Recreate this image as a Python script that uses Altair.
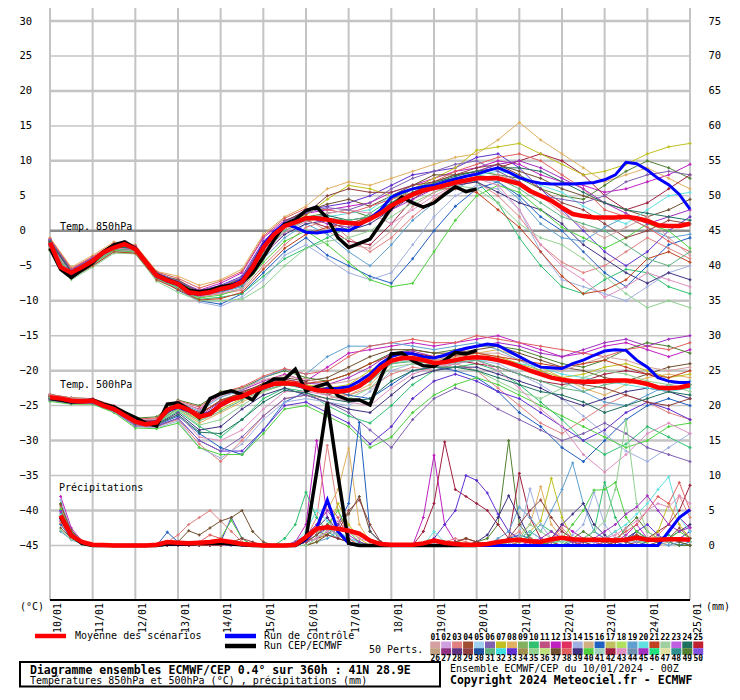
import altair as alt
import pandas as pd

MONO = "DejaVu Sans Mono"
OX, OY = 50, 8  # page position of the plot origin (used for annotation layout)

DAY_LABELS = ["10/01", "11/01", "12/01", "13/01", "14/01", "15/01", "16/01", "17/01",
              "18/01", "19/01", "20/01", "21/01", "22/01", "23/01", "24/01", "25/01"]
DAY_HOURS = list(range(0, 361, 24))
HOURS6 = list(range(0, 361, 6))
HOURS12 = list(range(0, 361, 12))
HOURS_PR = list(range(6, 361, 6))
HOURS_OP = list(range(0, 241, 6))
HOURS_OP_PR = list(range(6, 241, 6))
TEMP_TICKS = list(range(-45, 31, 5))
PR_ZERO = -45  # 0 mm sits on the -45 line of the temperature axis

PALETTE = ["#d4a0a0", "#d0a0e0", "#e08080", "#a05030", "#a0d0f0", "#8060b0", "#c0c020", "#e0b060",
           "#80b060", "#30c070", "#c05080", "#c020c0", "#e03060", "#a0b0e0", "#d0b080", "#2060c0",
           "#c0c060", "#b0e060", "#60a0d0", "#60e0e0", "#c04020", "#a0d0a0", "#c060e0", "#207060",
           "#c02030", "#c0a080", "#903080", "#603080", "#904040", "#2050a0", "#60b080", "#40e0e0",
           "#6030d0", "#a09050", "#90d090", "#c0e080", "#705030", "#e06060", "#403080", "#50d040",
           "#a0d0c0", "#a02040", "#e090c0", "#7090b0", "#a030c0", "#20e080", "#e0e0a0", "#309090",
           "#508030", "#8050e0"]
MEMBER_IDS = [12, 3, 8, 16, 49, 10, 42, 33, 19, 7, 14, 37, 39, 20, 40, 38, 35, 45, 43, 29, 1, 6, 21, 24, 31]

# ---------------- 850 hPa ----------------
T850_MEAN = [-1.7, -5.2, -6.0, -5.2, -4.3, -3.1, -2.4, -1.9, -2.6, -4.5, -6.4, -7.1, -7.6, -8.8, -9.0, -8.8,
             -8.3, -8.0, -7.3, -5.2, -2.4, -0.5, 0.7, 1.2, 1.8, 1.8, 1.6, 1.3, 1.1, 1.0, 1.7, 2.5, 3.6, 4.4,
             5.2, 5.8, 6.1, 6.5, 6.9, 7.2, 7.5, 7.5, 7.5, 7.1, 6.7, 5.7, 5.0, 4.3, 3.3, 2.4, 2.1, 1.9, 1.9,
             1.9, 2.0, 1.8, 1.4, 0.8, 0.7, 0.7, 1.0]
T850_CTRL = [-1.8, -5.3, -6.2, -5.3, -4.4, -3.2, -2.3, -1.9, -2.7, -4.6, -6.5, -7.2, -7.7, -8.9, -9.1, -8.8,
             -8.2, -7.8, -7.0, -5.0, -2.0, -0.2, 1.0, 0.5, -0.2, -0.3, -0.1, 0.2, 0.0, 0.8, 1.8, 3.0, 4.8,
             5.5, 6.0, 6.3, 6.5, 7.0, 7.4, 7.8, 8.1, 8.6, 9.0, 8.4, 7.6, 7.1, 6.8, 6.7, 6.7, 6.7, 6.8, 6.9,
             7.3, 8.0, 9.8, 9.6, 8.7, 7.5, 6.6, 5.2, 3.1]
T850_OPER = [-2.5, -5.5, -6.7, -5.6, -4.6, -3.0, -2.0, -1.6, -2.5, -4.5, -6.3, -7.0, -7.5, -8.5, -8.7, -8.5,
             -8.0, -7.8, -7.4, -6.0, -3.8, -1.3, 0.9, 1.6, 2.9, 3.4, 1.8, -1.0, -2.4, -1.8, -1.2, 1.0, 3.3,
             4.8, 4.0, 3.4, 4.0, 5.2, 6.3, 5.6, 6.0]
T850_PERTS = [
    [-1.2, -5.5, -3.8, -2.0, -2.2, -6.0, -7.2, -8.5, -7.5, -6.0, -1.0, 1.5, 2.5, 3.0, 3.5, 4.0, 5.5, 6.5, 7.5, 8.5, 9.0, 10.0, 9.5, 8.0, 7.0, 6.5, 5.5, 6.0, 7.0, 8.0, 9.5],
    [-2.5, -6.5, -4.8, -2.8, -3.0, -6.8, -8.0, -9.5, -9.0, -8.5, -5.0, -2.0, 0.5, 1.5, -1.0, -3.0, -1.0, 2.0, 4.5, 6.5, 7.0, 5.0, 2.0, -2.0, -4.5, -6.0, -5.0, -3.0, -1.0, -2.5, -4.0],
    [-1.0, -5.2, -3.5, -1.6, -2.0, -5.8, -6.5, -7.8, -7.0, -5.5, -0.5, 2.0, 3.5, 6.0, 7.0, 6.5, 7.5, 8.5, 9.5, 10.5, 11.0, 13.0, 15.5, 13.0, 11.0, 9.0, 7.0, 8.0, 9.0, 7.5, 6.0],
    [-2.0, -6.2, -4.5, -2.6, -2.8, -6.6, -8.5, -10.0, -10.5, -9.0, -6.0, -3.0, -1.0, -3.5, -5.0, -6.5, -7.5, -4.0, 0.0, 3.5, 6.0, 7.0, 5.0, 2.0, 0.0, -3.0, -6.0, -8.0, -5.0, -2.0, -1.0],
    [-1.5, -5.8, -4.0, -2.2, -2.4, -6.2, -7.0, -8.8, -8.0, -7.0, -2.0, 1.0, 2.0, 2.5, 3.0, 2.0, 4.0, 6.0, 7.0, 8.0, 8.5, 8.0, 7.5, 6.0, 5.0, 4.5, 6.5, 8.5, 10.0, 9.0, 7.5],
    [-2.8, -6.8, -5.0, -3.0, -3.2, -7.0, -8.2, -9.8, -9.5, -9.0, -6.5, -4.0, -2.5, -1.0, 0.5, 2.5, 4.5, 6.0, 7.0, 7.5, 7.0, 4.0, -1.0, -5.0, -8.0, -9.0, -7.0, -5.5, -6.0, -8.0, -9.0],
    [-1.8, -6.0, -4.2, -2.5, -2.7, -6.5, -7.8, -9.2, -8.5, -7.5, -3.0, 0.5, 1.5, 0.5, -1.5, -2.0, 1.0, 4.5, 6.5, 7.5, 8.0, 9.0, 10.0, 11.0, 10.0, 8.0, 5.0, 3.0, 4.0, 6.0, 8.0],
    [-1.3, -5.6, -3.9, -2.1, -2.3, -6.1, -7.3, -8.6, -7.8, -6.5, -1.5, 1.2, 3.0, 3.5, 4.0, 5.0, 6.5, 8.0, 8.5, 9.0, 10.5, 11.0, 9.0, 6.0, 3.0, 0.0, -3.0, -5.0, -3.0, 0.0, 2.0],
    [-2.2, -6.4, -4.6, -2.7, -2.9, -6.7, -8.0, -9.4, -8.8, -8.0, -4.0, -1.0, 1.0, -0.5, -3.0, -5.0, -2.0, 1.5, 4.0, 6.0, 7.5, 7.0, 4.5, 1.0, -1.0, -1.5, 0.5, 2.0, 0.5, -1.0, -0.5],
    [-1.6, -5.9, -4.1, -2.3, -2.5, -6.3, -7.5, -8.9, -8.2, -7.2, -2.2, 0.8, 2.2, 4.5, 6.5, 6.0, 5.0, 6.0, 7.5, 9.0, 11.5, 12.0, 12.5, 11.0, 9.5, 8.0, 8.5, 9.5, 11.0, 12.0, 12.5],
    [-2.6, -6.6, -4.9, -2.9, -3.1, -6.9, -8.3, -10.2, -10.8, -9.5, -7.0, -3.5, -2.0, -4.0, -6.0, -7.0, -6.0, -2.0, 2.0, 5.0, 6.5, 6.0, 3.0, -3.0, -7.0, -8.0, -9.0, -10.0, -8.0, -6.0, -5.0],
    [-1.4, -5.7, -4.0, -2.1, -2.4, -6.1, -7.4, -8.7, -8.0, -6.8, -1.8, 1.4, 2.8, 3.8, 4.5, 3.5, 5.0, 6.5, 8.0, 8.0, 8.5, 9.5, 8.5, 7.5, 6.0, 5.0, 4.0, 3.0, 2.0, 3.0, 4.5],
    [-2.1, -6.3, -4.4, -2.6, -2.8, -6.6, -7.9, -9.3, -8.7, -7.8, -3.5, -0.5, 1.0, 1.5, 0.0, 1.0, 3.0, 5.0, 6.0, 6.5, 7.0, 5.5, 4.0, 3.0, 1.0, -2.0, -4.0, -6.0, -7.5, -6.0, -7.0],
    [-1.9, -6.1, -4.3, -2.4, -2.6, -6.4, -7.7, -9.1, -8.4, -7.4, -2.6, 0.6, 1.6, 2.0, 2.5, 3.0, 5.0, 6.0, 6.5, 7.5, 8.0, 8.5, 8.0, 6.5, 5.5, 3.5, 2.0, 1.0, 3.0, 5.0, 5.5],
    [-2.4, -6.5, -4.7, -2.8, -3.0, -6.8, -8.1, -9.6, -9.2, -8.2, -4.5, -1.5, 0.0, -2.0, -4.5, -7.0, -8.0, -7.5, -3.0, 1.5, 5.0, 6.5, 5.5, 3.0, 0.5, -1.0, -2.5, -1.0, 1.0, 0.0, -2.5],
    [-1.1, -5.4, -3.7, -1.8, -2.1, -5.9, -6.8, -8.2, -7.2, -5.8, -0.8, 1.8, 3.2, 3.0, 2.5, 3.5, 4.5, 5.5, 7.0, 8.5, 9.5, 10.5, 11.0, 10.0, 8.0, 6.0, 3.0, 2.0, 0.5, -1.5, -3.0],
    [-2.9, -7.0, -5.2, -3.2, -3.3, -7.2, -8.8, -10.0, -10.0, -9.8, -8.0, -5.0, -2.5, -1.5, -1.0, 0.0, 2.0, 4.0, 5.5, 6.5, 6.0, 4.0, 1.0, -1.0, -2.0, -4.0, -6.5, -9.0, -11.0, -10.0, -11.0],
    [-1.7, -6.0, -4.3, -2.4, -2.6, -6.4, -7.6, -9.0, -8.3, -7.0, -2.0, 1.0, 2.0, 1.0, 0.5, 1.5, 3.0, 4.5, 6.0, 7.0, 8.5, 9.5, 10.0, 9.0, 7.5, 6.0, 4.0, 2.5, 1.0, 2.0, 3.0],
    [-2.3, -6.3, -4.5, -2.6, -2.9, -6.7, -7.9, -9.3, -8.9, -8.3, -3.8, -0.2, 1.3, 2.5, 3.0, 2.5, 1.0, 3.0, 5.0, 6.5, 7.5, 6.5, 3.0, -2.0, -5.0, -7.0, -9.5, -8.0, -6.0, -7.0, -8.0],
    [-1.5, -5.8, -4.0, -2.2, -2.4, -6.2, -7.1, -8.7, -8.1, -7.1, -2.3, 0.9, 2.4, 5.0, 6.0, 5.5, 5.5, 6.5, 7.0, 8.0, 9.0, 9.5, 8.0, 6.0, 4.0, 3.0, 1.0, -1.0, 0.0, 1.5, 1.0],
    [-2.0, -6.2, -4.4, -2.5, -2.7, -6.5, -7.7, -9.1, -8.5, -7.6, -3.2, 0.2, 1.7, 0.0, -2.0, -2.5, 0.0, 3.5, 5.5, 7.0, 7.5, 8.0, 7.0, 5.0, 2.5, 0.5, -1.0, 0.5, 2.0, -1.0, -3.5],
    [-1.3, -5.6, -3.9, -2.0, -2.3, -6.0, -7.2, -8.6, -7.9, -6.7, -1.7, 1.3, 2.6, 3.3, 3.0, 4.0, 6.0, 7.5, 8.5, 9.5, 10.0, 8.5, 7.0, 5.0, 4.5, 4.0, 5.0, 7.0, 8.0, 8.5, 8.0],
    [-2.7, -6.7, -5.0, -3.0, -3.2, -7.0, -8.4, -9.9, -9.7, -8.8, -5.5, -2.5, -0.5, 0.5, 1.0, 2.0, 3.5, 5.0, 6.0, 6.0, 5.5, 3.0, 0.5, -3.0, -6.5, -9.0, -8.5, -7.0, -4.0, -3.0, -4.5],
    [-1.6, -5.9, -4.2, -2.3, -2.5, -6.3, -7.5, -8.9, -8.3, -7.3, -2.5, 0.7, 1.9, 2.2, 1.5, 2.0, 4.0, 5.5, 6.8, 7.8, 8.5, 9.0, 9.0, 8.5, 7.0, 5.5, 4.0, 3.0, 2.5, 2.0, 1.5],
    [-2.2, -6.3, -4.5, -2.6, -2.8, -6.6, -7.8, -9.2, -8.6, -7.7, -3.3, 0.0, 1.5, 1.8, 1.5, 2.0, 3.5, 5.0, 6.5, 7.5, 8.0, 7.5, 6.0, 4.0, 2.0, 1.0, 0.0, -2.0, -4.0, -5.0, -3.0],
]

# ---------------- 500 hPa ----------------
T500_MEAN = [-23.8, -24.0, -24.3, -24.4, -24.3, -25.0, -25.5, -26.4, -27.3, -27.7, -27.4, -25.6, -25.0, -25.6,
             -26.6, -26.2, -24.9, -24.1, -23.7, -23.0, -22.4, -21.9, -21.8, -21.9, -22.4, -22.8, -22.9, -23.0,
             -22.8, -22.2, -21.1, -19.6, -18.6, -18.2, -18.2, -18.5, -18.9, -18.8, -18.5, -18.2, -18.1, -18.2,
             -18.5, -18.9, -19.4, -20.0, -20.5, -21.0, -21.3, -21.5, -21.6, -21.6, -21.5, -21.4, -21.4, -21.6,
             -21.9, -22.4, -22.5, -22.4, -22.1]
T500_CTRL = [-23.8, -24.0, -24.3, -24.4, -24.3, -25.0, -25.5, -26.3, -27.2, -27.6, -27.3, -25.8, -25.2, -25.8,
             -26.5, -26.0, -25.0, -24.2, -23.6, -23.0, -22.5, -22.0, -21.8, -22.0, -22.5, -22.8, -22.6, -22.5,
             -22.3, -21.5, -20.5, -19.0, -18.0, -17.5, -17.6, -18.0, -18.2, -17.8, -17.2, -16.8, -16.5, -16.2,
             -16.4, -17.2, -18.0, -18.8, -19.5, -19.6, -19.7, -19.0, -18.5, -17.8, -17.2, -17.0, -17.1, -18.5,
             -19.5, -21.0, -21.5, -21.7, -21.7]
T500_OPER = [-24.0, -24.2, -24.5, -24.4, -24.2, -24.8, -25.2, -26.0, -26.7, -27.5, -27.9, -24.8, -24.6, -25.5,
             -26.7, -24.0, -23.3, -22.9, -23.4, -24.2, -22.1, -21.2, -21.2, -19.8, -22.9, -22.3, -21.8, -23.6,
             -24.2, -24.2, -24.9, -21.0, -17.6, -17.5, -18.6, -19.3, -19.4, -18.5, -17.4, -17.6, -17.1]
T500_PERTS = [
    [-23.5, -24.0, -24.1, -25.2, -27.0, -27.0, -24.5, -25.5, -23.5, -22.8, -21.5, -20.5, -21.5, -19.5, -17.5, -17.0, -16.5, -16.0, -16.5, -16.0, -15.5, -15.0, -16.0, -17.0, -18.0, -17.5, -16.5, -16.0, -17.0, -18.0, -17.0],
    [-24.0, -24.5, -24.5, -25.8, -27.8, -28.0, -27.0, -30.5, -33.0, -30.0, -26.5, -24.0, -23.5, -24.0, -23.5, -22.5, -20.5, -19.5, -20.0, -19.0, -20.0, -22.5, -25.0, -27.5, -29.0, -27.0, -25.0, -23.5, -24.5, -26.0, -27.0],
    [-23.6, -24.2, -24.2, -25.4, -27.2, -27.2, -25.5, -27.5, -26.0, -24.5, -23.0, -22.0, -22.0, -23.0, -23.5, -22.0, -19.0, -18.5, -19.0, -18.0, -17.5, -17.0, -18.0, -19.5, -21.0, -22.5, -23.5, -22.0, -21.0, -20.5, -21.0],
    [-24.2, -24.6, -24.6, -25.7, -27.6, -27.8, -26.5, -29.0, -31.0, -32.0, -28.5, -24.5, -23.0, -22.5, -23.5, -24.0, -22.0, -20.0, -19.5, -20.0, -21.0, -23.0, -26.0, -28.0, -31.0, -33.0, -30.0, -27.0, -25.0, -24.0, -25.0],
    [-23.4, -23.9, -24.0, -25.1, -26.8, -26.6, -24.2, -25.0, -23.0, -22.5, -21.0, -20.0, -21.0, -21.5, -20.5, -19.0, -17.5, -17.0, -17.5, -17.0, -16.5, -16.5, -17.0, -18.0, -19.0, -19.5, -18.5, -17.0, -16.0, -16.5, -17.5],
    [-23.9, -24.4, -24.4, -25.6, -27.5, -27.6, -25.8, -28.0, -29.5, -27.0, -24.0, -22.5, -23.0, -25.0, -26.5, -27.5, -25.0, -22.0, -20.0, -19.5, -19.0, -20.0, -22.0, -24.5, -27.0, -30.0, -32.0, -30.5, -28.0, -29.5, -31.0],
    [-23.7, -24.2, -24.3, -25.4, -27.3, -27.3, -24.8, -26.0, -24.5, -23.0, -22.0, -21.5, -22.5, -23.5, -22.5, -20.5, -18.0, -17.5, -18.0, -18.5, -19.0, -19.5, -20.5, -21.5, -22.0, -21.5, -20.5, -20.0, -20.5, -21.5, -22.0],
    [-24.1, -24.5, -24.6, -25.7, -27.7, -27.9, -26.8, -30.0, -31.5, -31.5, -28.5, -25.0, -24.5, -26.0, -27.5, -30.5, -28.0, -24.0, -21.5, -20.5, -21.5, -23.0, -24.0, -26.0, -28.0, -30.0, -28.5, -26.0, -24.5, -25.5, -27.0],
    [-23.5, -24.1, -24.1, -25.3, -27.1, -27.1, -24.6, -25.8, -23.8, -22.8, -21.0, -19.8, -20.5, -18.0, -16.5, -16.5, -16.0, -16.5, -17.0, -16.5, -16.0, -17.0, -18.5, -20.0, -21.5, -23.0, -24.5, -25.0, -23.5, -22.0, -21.5],
    [-23.8, -24.3, -24.3, -25.5, -27.4, -27.5, -25.3, -27.0, -25.5, -24.0, -22.5, -21.5, -22.0, -22.5, -22.0, -20.0, -18.5, -18.0, -18.5, -18.0, -17.5, -18.0, -19.0, -20.0, -21.0, -20.5, -19.5, -19.0, -20.0, -21.0, -20.5],
    [-24.3, -24.7, -24.7, -25.9, -28.0, -28.2, -27.2, -31.0, -32.5, -30.5, -27.0, -24.5, -24.0, -24.5, -25.0, -23.0, -20.0, -19.0, -19.5, -19.0, -18.5, -19.0, -20.5, -22.0, -24.0, -26.5, -29.0, -31.5, -33.0, -31.0, -29.0],
    [-23.6, -24.1, -24.2, -25.3, -27.2, -27.1, -24.7, -26.3, -24.2, -23.2, -21.8, -21.0, -21.5, -21.0, -19.5, -18.0, -17.0, -17.0, -17.5, -17.5, -17.0, -16.5, -17.5, -18.5, -19.5, -20.0, -21.0, -21.5, -20.5, -19.5, -19.0],
    [-24.0, -24.4, -24.5, -25.6, -27.6, -27.7, -26.0, -28.5, -28.0, -25.5, -23.5, -22.5, -23.5, -24.5, -25.5, -26.0, -23.5, -21.0, -20.0, -19.5, -19.5, -20.5, -21.5, -22.5, -24.0, -25.0, -24.0, -23.0, -22.5, -23.0, -24.0],
    [-23.7, -24.2, -24.3, -25.5, -27.3, -27.4, -25.1, -26.8, -25.0, -23.8, -22.3, -21.7, -22.2, -22.8, -22.5, -21.5, -19.0, -18.5, -19.0, -19.0, -18.5, -18.5, -19.0, -19.5, -20.5, -21.0, -21.5, -22.0, -22.5, -23.0, -22.5],
    [-24.4, -24.8, -24.8, -26.0, -28.2, -28.3, -27.5, -31.0, -32.0, -32.0, -29.0, -25.5, -25.0, -26.5, -28.0, -31.0, -29.5, -26.0, -23.5, -22.0, -21.0, -22.0, -23.5, -25.0, -26.5, -28.0, -29.5, -31.0, -30.0, -28.0, -27.5],
    [-23.4, -23.9, -24.0, -25.0, -26.9, -26.8, -24.3, -25.2, -23.2, -22.3, -20.8, -19.7, -20.5, -20.0, -18.0, -16.5, -16.0, -15.5, -16.0, -16.0, -15.0, -15.5, -16.0, -16.5, -17.0, -17.5, -18.0, -17.0, -16.5, -17.0, -16.0],
    [-23.9, -24.4, -24.4, -25.6, -27.5, -27.5, -25.6, -27.8, -27.0, -25.0, -23.0, -22.0, -22.5, -23.5, -24.0, -22.5, -19.5, -19.0, -19.5, -19.5, -20.0, -21.5, -23.0, -24.0, -22.5, -21.0, -20.0, -20.5, -21.5, -22.0, -23.0],
    [-23.6, -24.1, -24.1, -25.3, -27.2, -27.2, -24.9, -26.5, -24.5, -23.5, -22.0, -21.2, -21.8, -22.0, -21.0, -19.5, -17.5, -17.2, -18.0, -17.5, -16.5, -16.0, -16.5, -17.5, -18.0, -17.0, -16.0, -15.5, -16.5, -15.5, -15.0],
    [-24.1, -24.6, -24.6, -25.8, -27.7, -27.8, -26.2, -29.5, -30.0, -28.5, -25.5, -23.0, -23.0, -23.5, -24.5, -25.0, -22.5, -20.5, -19.5, -19.0, -18.5, -20.0, -22.5, -25.5, -28.0, -32.0, -34.5, -32.0, -29.0, -27.5, -29.0],
    [-23.8, -24.3, -24.3, -25.5, -27.4, -27.3, -25.0, -26.7, -24.8, -23.6, -22.4, -21.8, -22.4, -22.9, -22.8, -21.0, -18.7, -18.3, -18.8, -18.4, -18.0, -18.5, -19.5, -20.5, -21.5, -22.0, -22.5, -23.5, -24.5, -25.0, -24.0],
    [-23.5, -24.0, -24.1, -25.2, -27.0, -27.0, -24.4, -25.6, -23.6, -22.6, -21.3, -20.7, -21.2, -22.0, -21.5, -20.5, -18.0, -17.5, -18.5, -18.0, -17.5, -17.5, -18.5, -19.5, -20.0, -19.0, -18.0, -18.5, -19.5, -20.0, -19.5],
    [-24.2, -24.7, -24.7, -25.8, -27.9, -28.0, -26.8, -30.0, -31.5, -29.5, -26.5, -24.0, -23.5, -24.5, -26.0, -28.5, -31.0, -27.0, -24.0, -22.5, -23.5, -25.5, -27.0, -28.5, -30.0, -29.0, -27.5, -29.0, -31.0, -32.0, -33.0],
    [-23.7, -24.2, -24.2, -25.4, -27.3, -27.3, -24.9, -26.2, -24.3, -23.3, -22.0, -21.3, -21.8, -21.5, -20.5, -19.0, -17.8, -17.5, -18.0, -17.8, -17.5, -18.0, -18.5, -19.0, -19.5, -19.0, -18.5, -19.5, -20.5, -21.0, -20.0],
    [-24.0, -24.5, -24.5, -25.7, -27.6, -27.7, -26.3, -28.8, -29.0, -27.0, -24.5, -22.8, -23.2, -24.0, -24.5, -24.0, -21.5, -20.0, -19.5, -19.5, -20.0, -21.0, -22.0, -23.0, -23.5, -24.5, -26.0, -25.0, -24.0, -23.0, -23.5],
    [-23.9, -24.3, -24.4, -25.5, -27.4, -27.5, -25.4, -27.2, -25.8, -24.2, -22.8, -22.0, -22.6, -23.2, -23.0, -21.5, -19.0, -18.7, -19.0, -18.8, -18.5, -19.5, -20.5, -21.5, -22.5, -23.0, -22.0, -21.5, -22.0, -22.5, -22.0],
]

# ---------------- precipitation (mm per 6 h) ----------------
PR_MEAN = [4.3, 1.4, 0.5, 0.1, 0.05, 0.0, 0.0, 0.0, 0.0, 0.1,
           0.5, 0.4, 0.3, 0.4, 0.5, 0.7, 0.5, 0.2, 0.1, 0.0,
           0.0, 0.0, 0.1, 1.2, 2.4, 2.6, 2.4, 2.1, 1.7, 0.7,
           0.2, 0.1, 0.1, 0.1, 0.3, 0.7, 0.4, 0.2, 0.1, 0.1,
           0.2, 0.5, 0.7, 0.8, 0.6, 0.5, 0.9, 1.1, 0.9, 0.8,
           0.8, 0.8, 0.7, 0.8, 1.1, 0.8, 0.8, 0.9, 0.9, 0.8]
PR_CTRL = [4.2, 1.5, 0.4, 0, 0, 0, 0, 0, 0, 0,
           0.2, 0.2, 0.2, 0.3, 0.3, 0.3, 0.2, 0.1, 0, 0,
           0, 0, 0, 0.8, 2.5, 6.5, 2.0, 0.3, 0, 0,
           0, 0, 0, 0, 0, 0, 0, 0, 0, 0,
           0, 0, 0, 0, 0, 0, 0, 0, 0, 0,
           0, 0, 0, 0, 0, 0, 0, 2.0, 4.0, 5.1]
PR_OPER = [4.0, 1.4, 0.3, 0, 0, 0, 0, 0, 0, 0,
           0.2, 0.2, 0.2, 0.3, 0.3, 0.3, 0.2, 0.1, 0, 0,
           0, 0, 0, 1.0, 10.5, 20.5, 10.0, 0.3, 0, 0,
           0, 0, 0, 0, 0, 0, 0, 0, 0, 0]
PR_PERTS = [
    [7.0, 2.5, 0.6, 0.1, 0, 0, 0, 0, 0, 0, 0, 0, 0.3, 0.5, 0.2, 0, 0, 0, 0, 0, 0, 0, 0.5, 3.0, 15.0, 4.0, 1.0, 0.5, 0.2, 0,
     0, 0, 0, 0, 4.0, 12.9, 3.0, 0.5, 0.2, 0, 0, 0, 0.5, 1.0, 2.0, 1.0, 0.5, 3.0, 2.0, 1.0, 0.5, 0, 0.5, 1.5, 3.0, 1.0, 0.5, 2.0, 4.0, 2.5],
    [5.5, 1.8, 0.4, 0, 0, 0, 0, 0, 0, 0, 0.5, 1.5, 3.0, 4.0, 5.0, 3.5, 2.0, 0.5, 0, 0, 0, 0, 0, 1.0, 4.0, 14.3, 5.0, 1.0, 0, 0,
     0, 0, 0, 0, 0, 0, 0.5, 1.0, 0.5, 0, 0, 0.5, 1.0, 2.0, 0.5, 0, 1.0, 2.5, 1.0, 0, 0, 1.0, 2.0, 0.5, 0, 0.5, 1.5, 3.0, 7.1, 4.0],
    [4.0, 1.2, 0.3, 0, 0, 0, 0, 0, 0, 0, 0, 0, 0, 0, 0, 0.2, 0.5, 0.3, 0, 0, 0, 0, 0.2, 1.5, 3.0, 5.0, 8.0, 13.9, 3.0, 0.5,
     0, 0, 0, 0, 0, 0, 0, 0.3, 1.0, 0.5, 0.2, 0, 0.5, 1.5, 3.0, 8.4, 3.0, 1.0, 0.5, 0, 0, 0, 0.5, 1.0, 0.5, 0, 0, 0.5, 1.0, 0.5],
    [3.0, 1.0, 0.2, 0, 0, 0, 0, 0, 0, 0, 1.9, 0.5, 0, 0, 0, 0, 0, 0, 0, 0, 0, 0, 0, 0.5, 1.0, 2.0, 3.0, 6.0, 17.6, 2.0,
     0.5, 0, 0, 0, 0, 0, 0, 0, 0, 0, 0, 0.5, 1.0, 1.5, 1.0, 0.5, 0, 0, 0.5, 1.0, 2.0, 1.0, 0.5, 0, 0, 0.5, 1.0, 0.5, 0, 0.5],
    [6.0, 2.2, 0.5, 0, 0, 0, 0, 0, 0, 0, 0, 0, 0, 0, 0, 0, 0, 0, 0, 0, 0, 0, 0.5, 1.0, 2.0, 1.5, 1.0, 0.5, 0, 0,
     0, 0, 0, 0, 0, 0, 0, 0, 0, 0.5, 1.0, 3.0, 15.0, 3.0, 1.0, 0.5, 0, 0, 1.0, 2.0, 1.0, 0.5, 0.5, 2.5, 4.0, 2.0, 1.0, 0.5, 0, 0],
    [4.5, 1.5, 0.3, 0, 0, 0, 0, 0, 0, 0, 0, 0, 0, 0, 0, 0, 0, 0, 0, 0, 0, 1.0, 3.0, 7.6, 4.0, 2.0, 1.0, 0.5, 0.3, 0,
     0, 0, 0, 0, 0, 0, 0, 0, 0, 0, 0, 0, 0, 0.5, 1.5, 3.0, 2.0, 1.0, 0.5, 1.0, 2.0, 9.0, 4.0, 1.0, 0.5, 0.5, 1.0, 1.5, 0.5, 0],
    [3.5, 1.2, 0.3, 0, 0, 0, 0, 0, 0, 0, 0, 0, 0, 0, 0, 0, 0, 0, 0, 0, 0, 0, 0, 0.5, 1.0, 1.5, 1.0, 0.5, 0, 0,
     0, 0, 0, 0, 2.0, 6.0, 14.8, 8.0, 7.0, 6.0, 5.0, 3.0, 1.0, 10.3, 4.0, 1.0, 0.5, 0, 0, 0.5, 1.0, 0.5, 0, 0, 0.5, 1.0, 2.0, 3.0, 5.0, 8.6],
    [5.0, 1.8, 0.4, 0, 0, 0, 0, 0, 0, 0, 0, 0, 0, 0, 0, 0.5, 4.0, 1.0, 0, 0, 0, 0, 0, 0.5, 1.5, 2.5, 1.5, 0.5, 0, 0,
     0, 0, 0, 0, 0, 1.0, 3.0, 5.0, 10.0, 9.3, 7.5, 4.5, 2.0, 1.0, 0.5, 0, 0.5, 1.0, 0.5, 0, 0, 0.5, 1.0, 0.5, 2.0, 3.0, 1.5, 0.5, 1.0, 2.0],
    [2.0, 0.8, 0.2, 0, 0, 0, 0, 0, 0, 0, 0, 0, 0, 0, 0, 0, 0, 0, 0, 0, 0, 0, 0, 0, 0.5, 1.0, 2.0, 1.0, 0.5, 0,
     0, 0, 0, 0, 0, 0, 0, 0, 0, 0, 0, 1.0, 2.0, 5.5, 4.0, 2.0, 5.0, 8.0, 11.8, 6.0, 2.0, 1.0, 0.5, 1.0, 2.0, 1.0, 0.5, 0, 0.5, 1.0],
    [4.2, 1.4, 0.3, 0, 0, 0, 0, 0, 0, 0, 0, 0, 0, 0, 0, 0, 0, 0, 0, 0, 0, 0, 0, 0, 0.5, 2.0, 6.0, 3.0, 1.0, 0,
     0, 0, 0, 0, 0, 0, 0, 0, 0, 0, 0, 0, 0.5, 1.0, 2.0, 3.5, 9.6, 4.0, 1.0, 0.5, 0, 0, 0.5, 1.0, 1.5, 0.5, 2.0, 6.0, 3.0, 1.0],
    [6.5, 2.0, 0.5, 0, 0, 0, 0, 0, 0, 0, 0, 0, 0, 0, 0, 0, 0, 0, 0, 0, 0, 0, 0, 0, 1.0, 2.0, 1.5, 1.0, 0.5, 0,
     0, 0, 0, 0, 0, 0, 0, 0, 0, 0, 0, 0, 0, 1.5, 8.1, 3.0, 1.0, 0.5, 1.5, 3.0, 7.6, 3.0, 1.0, 0.5, 0.5, 1.0, 0.5, 0.5, 1.0, 0.5],
    [2.5, 1.0, 0.3, 0, 0, 0, 0, 0, 0, 0, 0, 0.5, 2.1, 1.5, 2.5, 3.5, 4.0, 5.0, 2.0, 0.5, 0, 0, 0, 0, 0.5, 1.5, 3.0, 4.5, 7.0, 2.0,
     0.5, 0, 0, 0, 0, 0, 0, 0.5, 1.0, 0.5, 0, 0, 0.5, 1.0, 0.5, 0, 0.5, 1.0, 0.5, 0, 0, 0.5, 1.0, 0.5, 0, 0, 0.5, 1.0, 0.5, 0],
    [3.8, 1.3, 0.3, 0, 0, 0, 0, 0, 0, 0, 0, 0, 0, 0, 0, 0, 0, 0, 0, 0, 0, 0, 0, 0.5, 2.5, 4.0, 2.0, 0.5, 0, 0,
     0, 0, 0, 0, 0, 0, 0, 0, 0, 0.5, 1.5, 4.0, 7.1, 4.0, 1.0, 0.5, 1.0, 3.0, 4.5, 6.0, 3.0, 1.5, 0.5, 1.0, 2.0, 1.0, 0.5, 1.0, 2.0, 3.0],
    [4.4, 1.6, 0.4, 0, 0, 0, 0, 0, 0, 0, 0, 0, 0, 0, 0, 0, 0, 0, 0, 0, 0, 0, 0.5, 2.0, 5.0, 3.5, 2.0, 1.0, 0.5, 0,
     0, 0, 0, 0, 0, 2.0, 0.5, 0, 0, 0, 0, 0, 0.5, 1.0, 2.0, 1.0, 0.5, 0.5, 1.0, 0.5, 0.5, 1.0, 2.0, 3.0, 4.5, 6.0, 8.0, 9.8, 4.0, 2.0],
    [5.2, 1.9, 0.5, 0, 0, 0, 0, 0, 0, 0, 0, 0, 0, 0, 0, 1.0, 3.6, 1.0, 0, 0, 0, 0, 0, 0.5, 1.5, 3.0, 5.0, 2.0, 0.5, 0,
     0, 0, 0, 0, 0, 0, 0, 0, 0, 0, 0, 0, 0, 0.5, 1.0, 0.5, 0, 1.0, 3.0, 5.0, 7.9, 8.0, 9.0, 4.0, 2.0, 1.0, 0.5, 1.0, 2.0, 1.0],
    [3.2, 1.1, 0.3, 0, 0, 0, 0, 0, 0, 0, 0, 0, 0, 0.5, 1.5, 1.0, 0.5, 0, 0, 0, 0, 0, 0, 0.5, 2.0, 6.0, 4.0, 1.0, 0, 0,
     0, 0, 0, 0, 0, 0, 0, 0, 0, 0, 0, 0, 0, 0.5, 1.0, 0.5, 0.5, 1.0, 0.5, 0, 0, 0.5, 1.0, 2.0, 3.0, 5.0, 7.0, 6.0, 9.0, 5.0],
    [2.2, 0.9, 0.2, 0, 0, 0, 0, 0, 0, 0, 0, 0, 0, 0, 0, 0, 0, 0, 0, 0, 0, 0, 0, 0, 1.0, 2.5, 1.5, 0.5, 0, 0,
     0, 0, 0, 0, 0, 0, 0, 0, 0, 0, 0, 0, 0.5, 1.0, 3.0, 2.0, 1.0, 0.5, 0.5, 1.0, 2.0, 3.5, 8.0, 17.9, 6.0, 2.0, 1.0, 0.5, 1.0, 0.5],
    [4.8, 1.7, 0.4, 0, 0, 0, 0, 0, 0, 0, 0, 0, 0, 0, 0, 0, 0, 0, 0, 0, 0, 0, 0.5, 1.5, 3.0, 5.0, 3.0, 1.5, 0.5, 0,
     0, 0, 0, 0, 0, 0, 0, 0, 0, 0, 0, 0, 0, 0, 0.5, 1.0, 2.0, 1.0, 0.5, 0.5, 1.0, 2.0, 3.0, 4.5, 5.5, 7.1, 5.0, 3.0, 2.0, 2.6],
    [3.6, 1.3, 0.3, 0, 0, 0, 0, 0, 0, 0, 0, 0, 0, 0, 0, 0, 0, 0, 0, 0, 0, 0, 0, 0.5, 1.0, 2.0, 3.5, 2.0, 1.0, 0.5,
     0, 0, 0, 0, 0, 0, 0, 0, 0, 0, 0, 0, 0, 0, 0, 0.5, 1.0, 2.0, 1.0, 0.5, 0.5, 1.0, 1.5, 2.5, 3.5, 5.0, 6.0, 5.5, 7.1, 6.0],
    [5.8, 2.0, 0.5, 0, 0, 0, 0, 0, 0, 0, 0, 0, 0, 0, 0, 0, 0.5, 1.0, 0.5, 0, 0, 0, 0, 0.5, 1.5, 3.0, 2.0, 5.0, 6.5, 3.0,
     0.5, 0, 0, 0, 0, 0, 0, 0.5, 1.0, 0.5, 0, 0.5, 1.0, 3.0, 5.0, 6.5, 4.0, 2.0, 1.0, 0.5, 0, 0, 0.5, 1.0, 1.5, 1.0, 0.5, 1.0, 2.5, 1.0],
]

# ---------------- sanity checks ----------------
for arr, n in [(T850_MEAN, 61), (T850_CTRL, 61), (T850_OPER, 41), (T500_MEAN, 61), (T500_CTRL, 61),
               (T500_OPER, 41), (PR_MEAN, 60), (PR_CTRL, 60), (PR_OPER, 40)]:
    assert len(arr) == n, (n, len(arr))
for i, arr in enumerate(T850_PERTS + T500_PERTS):
    assert len(arr) == 31, ("temp", i, len(arr))
for i, arr in enumerate(PR_PERTS):
    assert len(arr) == 60, ("pr", i, len(arr))

# ---------------- tables ----------------
def rows_for(key, hours, values, color, shift=0.0):
    return [{"key": key, "h": h, "v": v + shift, "c": color} for h, v in zip(hours, values)]

pert_rows = []
for i, vals in enumerate(T850_PERTS):
    pert_rows += rows_for(f"t850_{i}", HOURS12, vals, PALETTE[MEMBER_IDS[i] - 1])
for i, vals in enumerate(T500_PERTS):
    pert_rows += rows_for(f"t500_{i}", HOURS12, vals, PALETTE[MEMBER_IDS[i] - 1])
for i, vals in enumerate(PR_PERTS):
    pert_rows += rows_for(f"pr_{i}", HOURS_PR, vals, PALETTE[MEMBER_IDS[i] - 1], PR_ZERO)
pert_df = pd.DataFrame(pert_rows)

ctrl_df = pd.DataFrame(rows_for("t850", HOURS6, T850_CTRL, "#0000ff")
                       + rows_for("t500", HOURS6, T500_CTRL, "#0000ff")
                       + rows_for("pr", HOURS_PR, PR_CTRL, "#0000ff", PR_ZERO))
oper_df = pd.DataFrame(rows_for("t850", HOURS_OP, T850_OPER, "#000000")
                       + rows_for("t500", HOURS_OP, T500_OPER, "#000000")
                       + rows_for("pr", HOURS_OP_PR, PR_OPER, "#000000", PR_ZERO))
mean_df = pd.DataFrame(rows_for("t850", HOURS6, T850_MEAN, "#ff0000")
                       + rows_for("t500", HOURS6, T500_MEAN, "#ff0000")
                       + rows_for("pr", HOURS_PR, PR_MEAN, "#ff0000", PR_ZERO))

PLOT_W, PLOT_H = 640, 592
XS = alt.Scale(domain=[0, 360], nice=False, zero=False)
YS = alt.Scale(domain=[-52.8, 31.86], nice=False, zero=False)
NOX = alt.X("h:Q", scale=XS, axis=None)

grid_major = pd.DataFrame({"v": [t for t in TEMP_TICKS if t % 10 == 0 and t != 0]})
grid_minor = pd.DataFrame({"v": [t for t in TEMP_TICKS if t % 10 != 0]})
grid_zero = pd.DataFrame({"v": [0]})
days_df = pd.DataFrame({"h": DAY_HOURS, "lab": DAY_LABELS})

vgrid = alt.Chart(days_df).mark_rule(color="#c4c4c4", strokeWidth=2).encode(x=NOX)
minor_layer = alt.Chart(grid_minor).mark_rule(color="#c4c4c4", strokeWidth=1.5).encode(
    y=alt.Y("v:Q", scale=YS, axis=alt.Axis(orient="right", values=TEMP_TICKS, labelExpr="datum.value + 45",
                                           ticks=False, tickSize=0, domain=False, grid=False, labelPadding=18,
                                           labelAlign="left", labelFont=MONO, labelFontSize=10.5,
                                           labelColor="black", title=None)))
major_layer = alt.Chart(grid_major).mark_rule(color="#c4c4c4", strokeWidth=2.5).encode(
    y=alt.Y("v:Q", scale=YS, axis=alt.Axis(orient="left", values=TEMP_TICKS, ticks=False, tickSize=0,
                                           domain=False, grid=False, labelPadding=31, labelAlign="left",
                                           labelFont=MONO, labelFontSize=10.5, labelColor="black", title=None)))
zero_layer = alt.Chart(grid_zero).mark_rule(color="#8c8c8c", strokeWidth=2.5).encode(
    y=alt.Y("v:Q", scale=YS, axis=None))
bottom_line = alt.Chart(pd.DataFrame({"k": [0]})).mark_rule(color="black", strokeWidth=2).encode(
    x=alt.value(0), x2=alt.value(PLOT_W), y=alt.value(PLOT_H))
# rotated labels: dy acts across the reading direction, i.e. moves them right on screen
day_text = alt.Chart(days_df).mark_text(angle=270, align="right", baseline="top", font=MONO, fontSize=10,
                                        color="black", dy=2.5).encode(
    x=NOX, y=alt.value(PLOT_H + 3), text="lab:N")

enc_common = dict(
    y=alt.Y("v:Q", scale=YS, axis=None),
    detail="key:N",
    color=alt.Color("c:N", scale=None, legend=None),
)
pert_lines = alt.Chart(pert_df).mark_line(strokeWidth=1).encode(x=NOX, **enc_common)
pert_pts = alt.Chart(pert_df).mark_point(shape="cross", filled=True, size=9, opacity=1).encode(x=NOX, **enc_common)
ctrl_line = alt.Chart(ctrl_df).mark_line(strokeWidth=3).encode(x=NOX, **enc_common)
oper_line = alt.Chart(oper_df).mark_line(strokeWidth=3.5).encode(x=NOX, **enc_common)
mean_line = alt.Chart(mean_df).mark_line(strokeWidth=4.5).encode(x=NOX, **enc_common)

ONE = pd.DataFrame({"k": [0]})


def in_plot_label(txt, h, v):
    return alt.Chart(ONE).mark_text(text=txt, font=MONO, fontSize=10, align="left", baseline="middle",
                                    color="black").encode(
        x=alt.X(datum=h, scale=XS, axis=None), y=alt.Y(datum=v, scale=YS, axis=None))


def page_text(txt, px, py, size=10, bold=False):
    return alt.Chart(ONE).mark_text(text=txt, font=MONO, fontSize=size,
                                    fontWeight="bold" if bold else "normal",
                                    align="left", baseline="middle", color="black").encode(
        x=alt.value(px - OX), y=alt.value(py - OY))


def page_seg(x1, x2, py, color, w):
    return alt.Chart(ONE).mark_rule(color=color, strokeWidth=w).encode(
        x=alt.value(x1 - OX), x2=alt.value(x2 - OX), y=alt.value(py - OY))


labels_layers = [
    in_plot_label("Temp. 850hPa", 5.6, 0.55),
    in_plot_label("Temp. 500hPa", 5.6, -22.05),
    in_plot_label("Précipitations", 5.0, -36.8),
    page_text("(°C)", 20, 607),
    page_text("(mm)", 706, 607),
    page_seg(35, 66, 636, "#ff0000", 4.5),
    page_text("Moyenne des scénarios", 75, 636),
    page_seg(225, 256, 636, "#0000ff", 4.5),
    page_text("Run de contrôle", 264, 636),
    page_seg(225, 256, 646, "#000000", 4.5),
    page_text("Run CEP/ECMWF", 264, 646),
    page_text("50 Perts.", 369, 650),
    alt.Chart(ONE).mark_rect(fillOpacity=0, stroke="black", strokeWidth=2).encode(
        x=alt.value(20 - OX), x2=alt.value(440 - OX), y=alt.value(662 - OY), y2=alt.value(686.5 - OY)),
    page_text("Diagramme ensembles ECMWF/CEP 0.4° sur 360h : 41N 28.9E", 30, 670.5, 11.5, True),
    page_text("Températures 850hPa et 500hPa (°C) , précipitations (mm)", 30, 681, 10),
    page_text("Ensemble ECMWF/CEP du 10/01/2024 - 00Z", 450, 669, 10),
    page_text("Copyright 2024 Meteociel.fr - ECMWF", 450, 681, 11.5, True),
]

# member colour key (legend layout computed from member index)
sw_rows = []
for i, col in enumerate(PALETTE):
    r, c = divmod(i, 25)
    x0 = 430.2 + 10.96 * c - OX
    y0 = (641.5 if r == 0 else 648.2) - OY
    sw_rows.append({"x0": x0, "x1": x0 + 10, "y0": y0, "y1": y0 + 6.7, "c": col,
                    "lab": f"{i + 1:02d}", "lx": x0 + 5, "ly": (637.5 if r == 0 else 658.5) - OY})
sw_df = pd.DataFrame(sw_rows)
sw_rect = alt.Chart(sw_df).mark_rect().encode(
    x=alt.X("x0:Q", scale=None, axis=None), x2="x1:Q",
    y=alt.Y("y0:Q", scale=None, axis=None), y2="y1:Q",
    color=alt.Color("c:N", scale=None, legend=None))
sw_text = alt.Chart(sw_df).mark_text(font=MONO, fontSize=8, fontWeight="bold", align="center",
                                     baseline="middle", color="black").encode(
    x=alt.X("lx:Q", scale=None, axis=None), y=alt.Y("ly:Q", scale=None, axis=None), text="lab:N")

chart = alt.layer(
    vgrid, minor_layer, major_layer, zero_layer, bottom_line, day_text,
    pert_lines, pert_pts, ctrl_line, oper_line, mean_line,
    *labels_layers, sw_rect, sw_text,
).resolve_axis(y="independent").properties(
    width=PLOT_W, height=PLOT_H,
    autosize=alt.AutoSizeParams(type="none"),
    padding={"left": 42, "top": 0, "right": 42, "bottom": 88},
    background="white",
).configure_view(stroke=None)

chart.save("out.html", embed_options={"renderer": "svg", "actions": False})
